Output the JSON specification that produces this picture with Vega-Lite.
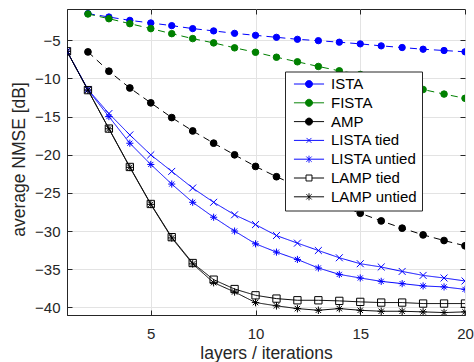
{
  "$schema": "https://vega.github.io/schema/vega-lite/v6.json",
  "autosize": {"type": "none"},
  "width": 398,
  "height": 306,
  "padding": {"left": 67, "top": 9, "right": 9, "bottom": 47},
  "config": {
    "view": {"stroke": "#262626", "strokeWidth": 1},
    "font": "Liberation Sans",
    "axis": {"labelFont": "Liberation Sans", "titleFont": "Liberation Sans", "labelColor": "#262626", "titleColor": "#262626", "titleFontWeight": "normal", "domainColor": "#262626", "tickColor": "#262626", "gridColor": "#e3e3e3", "gridWidth": 1}
  },
  "data": {"values": [
    {"s": "ISTA", "x": 2, "y": -1.5}, {"s": "ISTA", "x": 3, "y": -1.95}, {"s": "ISTA", "x": 4, "y": -2.39}, {"s": "ISTA", "x": 5, "y": -2.73}, {"s": "ISTA", "x": 6, "y": -3.08}, {"s": "ISTA", "x": 7, "y": -3.47}, {"s": "ISTA", "x": 8, "y": -3.77}, {"s": "ISTA", "x": 9, "y": -4.09}, {"s": "ISTA", "x": 10, "y": -4.35}, {"s": "ISTA", "x": 11, "y": -4.61}, {"s": "ISTA", "x": 12, "y": -4.87}, {"s": "ISTA", "x": 13, "y": -5.05}, {"s": "ISTA", "x": 14, "y": -5.25}, {"s": "ISTA", "x": 15, "y": -5.47}, {"s": "ISTA", "x": 16, "y": -5.73}, {"s": "ISTA", "x": 17, "y": -5.95}, {"s": "ISTA", "x": 18, "y": -6.17}, {"s": "ISTA", "x": 19, "y": -6.34}, {"s": "ISTA", "x": 20, "y": -6.51},
    {"s": "FISTA", "x": 2, "y": -1.55}, {"s": "FISTA", "x": 3, "y": -2.17}, {"s": "FISTA", "x": 4, "y": -2.82}, {"s": "FISTA", "x": 5, "y": -3.47}, {"s": "FISTA", "x": 6, "y": -4.13}, {"s": "FISTA", "x": 7, "y": -4.78}, {"s": "FISTA", "x": 8, "y": -5.34}, {"s": "FISTA", "x": 9, "y": -5.99}, {"s": "FISTA", "x": 10, "y": -6.57}, {"s": "FISTA", "x": 11, "y": -7.22}, {"s": "FISTA", "x": 12, "y": -7.82}, {"s": "FISTA", "x": 13, "y": -8.43}, {"s": "FISTA", "x": 14, "y": -9.0}, {"s": "FISTA", "x": 15, "y": -9.48}, {"s": "FISTA", "x": 16, "y": -10.1}, {"s": "FISTA", "x": 17, "y": -10.8}, {"s": "FISTA", "x": 18, "y": -11.45}, {"s": "FISTA", "x": 19, "y": -12.05}, {"s": "FISTA", "x": 20, "y": -12.6},
    {"s": "AMP", "x": 2, "y": -6.52}, {"s": "AMP", "x": 3, "y": -9.05}, {"s": "AMP", "x": 4, "y": -11.25}, {"s": "AMP", "x": 5, "y": -13.2}, {"s": "AMP", "x": 6, "y": -15.13}, {"s": "AMP", "x": 7, "y": -16.88}, {"s": "AMP", "x": 8, "y": -18.48}, {"s": "AMP", "x": 9, "y": -20.01}, {"s": "AMP", "x": 10, "y": -21.53}, {"s": "AMP", "x": 11, "y": -22.88}, {"s": "AMP", "x": 12, "y": -24.1}, {"s": "AMP", "x": 13, "y": -25.45}, {"s": "AMP", "x": 14, "y": -26.67}, {"s": "AMP", "x": 15, "y": -27.66}, {"s": "AMP", "x": 16, "y": -28.67}, {"s": "AMP", "x": 17, "y": -29.62}, {"s": "AMP", "x": 18, "y": -30.5}, {"s": "AMP", "x": 19, "y": -31.24}, {"s": "AMP", "x": 20, "y": -31.93},
    {"s": "LISTA tied", "x": 1, "y": -6.44}, {"s": "LISTA tied", "x": 2, "y": -11.44}, {"s": "LISTA tied", "x": 3, "y": -14.6}, {"s": "LISTA tied", "x": 4, "y": -17.4}, {"s": "LISTA tied", "x": 5, "y": -20.01}, {"s": "LISTA tied", "x": 6, "y": -22.18}, {"s": "LISTA tied", "x": 7, "y": -24.36}, {"s": "LISTA tied", "x": 8, "y": -26.23}, {"s": "LISTA tied", "x": 9, "y": -27.87}, {"s": "LISTA tied", "x": 10, "y": -29.15}, {"s": "LISTA tied", "x": 11, "y": -30.59}, {"s": "LISTA tied", "x": 12, "y": -31.58}, {"s": "LISTA tied", "x": 13, "y": -32.55}, {"s": "LISTA tied", "x": 14, "y": -33.5}, {"s": "LISTA tied", "x": 15, "y": -34.28}, {"s": "LISTA tied", "x": 16, "y": -34.71}, {"s": "LISTA tied", "x": 17, "y": -35.29}, {"s": "LISTA tied", "x": 18, "y": -35.81}, {"s": "LISTA tied", "x": 19, "y": -36.15}, {"s": "LISTA tied", "x": 20, "y": -36.54},
    {"s": "LISTA untied", "x": 1, "y": -6.44}, {"s": "LISTA untied", "x": 2, "y": -11.5}, {"s": "LISTA untied", "x": 3, "y": -15.0}, {"s": "LISTA untied", "x": 4, "y": -18.49}, {"s": "LISTA untied", "x": 5, "y": -21.27}, {"s": "LISTA untied", "x": 6, "y": -23.84}, {"s": "LISTA untied", "x": 7, "y": -26.23}, {"s": "LISTA untied", "x": 8, "y": -28.19}, {"s": "LISTA untied", "x": 9, "y": -30.0}, {"s": "LISTA untied", "x": 10, "y": -31.67}, {"s": "LISTA untied", "x": 11, "y": -32.76}, {"s": "LISTA untied", "x": 12, "y": -33.72}, {"s": "LISTA untied", "x": 13, "y": -34.84}, {"s": "LISTA untied", "x": 14, "y": -35.68}, {"s": "LISTA untied", "x": 15, "y": -36.15}, {"s": "LISTA untied", "x": 16, "y": -36.59}, {"s": "LISTA untied", "x": 17, "y": -36.89}, {"s": "LISTA untied", "x": 18, "y": -37.19}, {"s": "LISTA untied", "x": 19, "y": -37.32}, {"s": "LISTA untied", "x": 20, "y": -37.64},
    {"s": "LAMP tied", "x": 1, "y": -6.44}, {"s": "LAMP tied", "x": 2, "y": -11.53}, {"s": "LAMP tied", "x": 3, "y": -16.57}, {"s": "LAMP tied", "x": 4, "y": -21.6}, {"s": "LAMP tied", "x": 5, "y": -26.45}, {"s": "LAMP tied", "x": 6, "y": -30.8}, {"s": "LAMP tied", "x": 7, "y": -34.19}, {"s": "LAMP tied", "x": 8, "y": -36.37}, {"s": "LAMP tied", "x": 9, "y": -37.6}, {"s": "LAMP tied", "x": 10, "y": -38.42}, {"s": "LAMP tied", "x": 11, "y": -38.85}, {"s": "LAMP tied", "x": 12, "y": -39.07}, {"s": "LAMP tied", "x": 13, "y": -39.07}, {"s": "LAMP tied", "x": 14, "y": -39.15}, {"s": "LAMP tied", "x": 15, "y": -39.28}, {"s": "LAMP tied", "x": 16, "y": -39.37}, {"s": "LAMP tied", "x": 17, "y": -39.37}, {"s": "LAMP tied", "x": 18, "y": -39.5}, {"s": "LAMP tied", "x": 19, "y": -39.5}, {"s": "LAMP tied", "x": 20, "y": -39.5},
    {"s": "LAMP untied", "x": 1, "y": -6.44}, {"s": "LAMP untied", "x": 2, "y": -11.53}, {"s": "LAMP untied", "x": 3, "y": -16.6}, {"s": "LAMP untied", "x": 4, "y": -21.65}, {"s": "LAMP untied", "x": 5, "y": -26.5}, {"s": "LAMP untied", "x": 6, "y": -30.9}, {"s": "LAMP untied", "x": 7, "y": -34.3}, {"s": "LAMP untied", "x": 8, "y": -36.76}, {"s": "LAMP untied", "x": 9, "y": -37.98}, {"s": "LAMP untied", "x": 10, "y": -39.37}, {"s": "LAMP untied", "x": 11, "y": -39.8}, {"s": "LAMP untied", "x": 12, "y": -40.16}, {"s": "LAMP untied", "x": 13, "y": -40.38}, {"s": "LAMP untied", "x": 14, "y": -40.16}, {"s": "LAMP untied", "x": 15, "y": -40.38}, {"s": "LAMP untied", "x": 16, "y": -40.51}, {"s": "LAMP untied", "x": 17, "y": -40.51}, {"s": "LAMP untied", "x": 18, "y": -40.59}, {"s": "LAMP untied", "x": 19, "y": -40.68}, {"s": "LAMP untied", "x": 20, "y": -40.59}
  ]},
  "resolve": {"axis": {"x": "independent", "y": "independent"}},
  "layer": [
    {
      "mark": {"type": "line", "strokeWidth": 1, "clip": true},
      "encoding": {
        "x": {"field": "x", "type": "quantitative", "scale": {"domain": [1, 20], "nice": false, "zero": false},
          "axis": {"values": [5, 10, 15, 20], "title": "layers / iterations", "labelFontSize": 15, "titleFontSize": 17.5, "grid": true, "ticks": true, "tickSize": -5, "labelPadding": 28, "labelBaseline": "alphabetic", "titleX": 199, "titleY": 43, "titleBaseline": "alphabetic", "titleAlign": "center", "labelFlush": false, "domainWidth": 1}},
        "y": {"field": "y", "type": "quantitative", "scale": {"domain": [-41, -0.9], "nice": false, "zero": false},
          "axis": {"values": [-40, -35, -30, -25, -20, -15, -10, -5], "title": "average NMSE [dB]", "labelFontSize": 15, "titleFontSize": 17.5, "grid": true, "ticks": true, "tickSize": -5, "labelPadding": 12, "labelBaseline": "middle", "titleX": -43, "titleY": 150, "titleAngle": 270, "titleBaseline": "alphabetic", "titleAlign": "center", "labelFlush": false, "domainWidth": 1}},
        "color": {"field": "s", "type": "nominal", "sort": null,
          "scale": {"domain": ["ISTA", "FISTA", "AMP", "LISTA tied", "LISTA untied", "LAMP tied", "LAMP untied"], "range": ["#0000ff", "#008000", "#000000", "#0000ff", "#0000ff", "#000000", "#000000"]},
          "legend": {
            "title": null, "orient": "none", "legendX": 218, "legendY": 62.5,
            "padding": 5, "rowPadding": 2.8, "strokeColor": "#262626", "fillColor": "#ffffff",
            "labelFont": "Liberation Sans", "labelFontSize": 15, "labelColor": "#000000", "labelOffset": 14.5, "symbolOffset": 11.5,
            "symbolSize": 49, "symbolStrokeWidth": 1,
            "encode": {"symbols": {"update": {
              "shape": {"signal": "datum.value === 'ISTA' || datum.value === 'FISTA' || datum.value === 'AMP' ? 'M-4.3,0L4.3,0M-1,0C-1,-0.552 -0.552,-1 0,-1C0.552,-1 1,-0.552 1,0C1,0.552 0.552,1 0,1C-0.552,1 -1,0.552 -1,0Z' : datum.value === 'LISTA tied' ? 'M-4.3,0L4.3,0M-0.7,-0.7L0.7,0.7M-0.7,0.7L0.7,-0.7' : datum.value === 'LAMP tied' ? 'M-4.3,0L-0.85,0M0.85,0L4.3,0M-0.85,-0.85L0.85,-0.85L0.85,0.85L-0.85,0.85Z' : 'M-4.3,0L4.3,0M0,-1L0,1M-0.75,-0.75L0.75,0.75M-0.75,0.75L0.75,-0.75'"},
              "fill": {"signal": "datum.value === 'ISTA' ? '#0000ff' : datum.value === 'FISTA' ? '#008000' : datum.value === 'AMP' ? '#000000' : 'transparent'"},
              "strokeDash": {"value": [1, 0]}
            }}}
          }},
        "strokeDash": {"field": "s", "type": "nominal", "sort": null,
          "scale": {"domain": ["LAMP untied", "LAMP tied", "LISTA untied", "LISTA tied", "AMP", "FISTA", "ISTA"], "range": [[1, 0], [1, 0], [1, 0], [1, 0], [7, 5], [7, 5], [7, 5]]},
          "legend": null},
        "order": {"field": "x", "type": "quantitative"}
      }
    },
    {
      "mark": {"type": "point", "strokeWidth": 1, "opacity": 1, "clip": true},
      "encoding": {
        "x": {"field": "x", "type": "quantitative",
          "axis": {"orient": "top", "values": [5, 10, 15, 20], "labels": false, "title": null, "grid": false, "domain": false, "ticks": true, "tickSize": -5}},
        "y": {"field": "y", "type": "quantitative",
          "axis": {"orient": "right", "values": [-40, -35, -30, -25, -20, -15, -10, -5], "labels": false, "title": null, "grid": false, "domain": false, "ticks": true, "tickSize": -5}},
        "stroke": {"field": "s", "type": "nominal", "sort": null,
          "scale": {"domain": ["LAMP untied", "LAMP tied", "LISTA untied", "LISTA tied", "AMP", "FISTA", "ISTA"], "range": ["#000000", "#000000", "#0000ff", "#0000ff", "#000000", "#008000", "#0000ff"]},
          "legend": null},
        "fill": {"field": "s", "type": "nominal", "sort": null,
          "scale": {"domain": ["LAMP untied", "LAMP tied", "LISTA untied", "LISTA tied", "AMP", "FISTA", "ISTA"], "range": ["transparent", "transparent", "transparent", "transparent", "#000000", "#008000", "#0000ff"]},
          "legend": null},
        "shape": {"field": "s", "type": "nominal", "sort": null,
          "scale": {"domain": ["LAMP untied", "LAMP tied", "LISTA untied", "LISTA tied", "AMP", "FISTA", "ISTA"], "range": ["M-1,0L1,0M0,-1L0,1M-0.72,-0.72L0.72,0.72M-0.72,0.72L0.72,-0.72", "square", "M-1,0L1,0M0,-1L0,1M-0.72,-0.72L0.72,0.72M-0.72,0.72L0.72,-0.72", "M-1,-1L1,1M-1,1L1,-1", "circle", "circle", "circle"]},
          "legend": null},
        "size": {"field": "s", "type": "nominal", "sort": null,
          "scale": {"domain": ["LAMP untied", "LAMP tied", "LISTA untied", "LISTA tied", "AMP", "FISTA", "ISTA"], "range": [56, 40, 56, 36, 52, 52, 52]},
          "legend": null}
      }
    }
  ]
}
